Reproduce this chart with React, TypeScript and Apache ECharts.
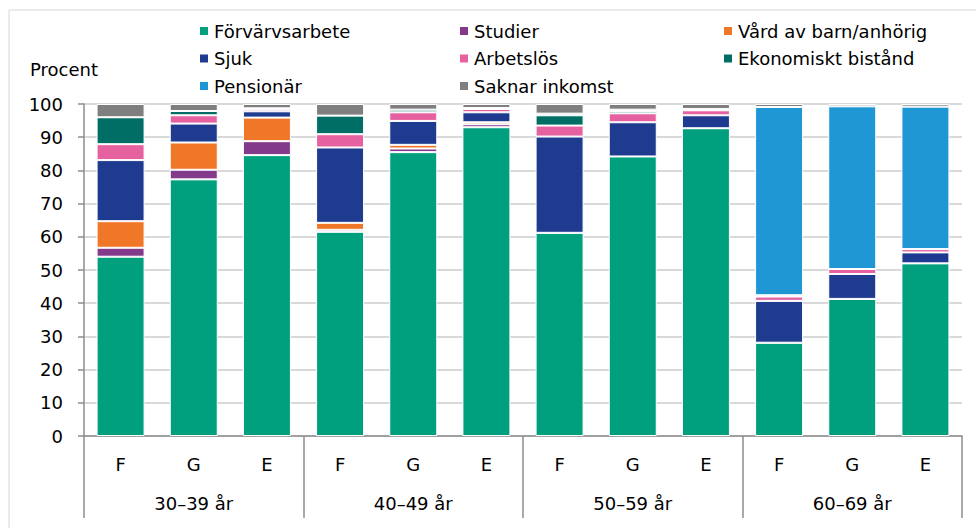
import React, { useEffect, useRef } from "react";
import * as echarts from "echarts";

const categories = ["F", "G", "E", "F", "G", "E", "F", "G", "E", "F", "G", "E"];
const groups = ["30–39 år", "40–49 år", "50–59 år", "60–69 år"];

const forvarvsarbete = [54.0, 77.3, 84.6, 61.5, 85.5, 93.0, 61.2, 84.2, 92.7, 28.1, 41.3, 52.0];
const studier = [2.7, 2.9, 4.2, 0.6, 1.1, 0.9, 0, 0, 0, 0, 0, 0];
const vard = [8.0, 8.2, 7.1, 2.1, 1.1, 0.6, 0, 0, 0, 0, 0, 0];
const sjuk = [18.4, 5.7, 1.9, 22.7, 7.2, 3.0, 29.0, 10.3, 3.9, 12.6, 7.5, 3.3];
const arbetslos = [4.8, 2.5, 0.6, 4.0, 2.6, 1.0, 3.3, 2.7, 1.5, 1.3, 1.5, 1.0];
const ekonomiskt = [8.1, 1.3, 0.3, 5.6, 0.8, 0.3, 3.1, 0.7, 0.2, 0.4, 0, 0];
const pensionar = [0, 0, 0, 0, 0, 0, 0.5, 0.4, 0.2, 56.7, 49.0, 42.9];
const saknar = [4.0, 2.1, 1.3, 3.5, 1.7, 1.2, 2.9, 1.7, 1.5, 0.9, 0.7, 0.8];

const yTicks = { min: 0, max: 100, interval: 10 };

const seriesDefs = [
  { name: "Förvärvsarbete", data: forvarvsarbete, color: "#00A07E" },
  { name: "Studier", data: studier, color: "#833A8B" },
  { name: "Vård av barn/anhörig", data: vard, color: "#F07628" },
  { name: "Sjuk", data: sjuk, color: "#1F3B8F" },
  { name: "Arbetslös", data: arbetslos, color: "#E661A0" },
  { name: "Ekonomiskt bistånd", data: ekonomiskt, color: "#006E65" },
  { name: "Pensionär", data: pensionar, color: "#1E97D4" },
  { name: "Saknar inkomst", data: saknar, color: "#7F7F7F" },
];

const FONT = "DejaVu Sans";

export default function App() {
  const ref = useRef<HTMLDivElement>(null);
  useEffect(() => {
    if (!ref.current) return;
    const chart = echarts.init(ref.current, null, { renderer: "svg" });
    const legendBase = {
      orient: "vertical" as const,
      top: 17,
      itemWidth: 10,
      itemHeight: 10,
      itemGap: 9.5,
      icon: "rect",
      textStyle: { fontFamily: FONT, fontSize: 18, color: "#000", lineHeight: 18 },
    };
    chart.setOption({
      animation: false,
      backgroundColor: "#fff",
      textStyle: { fontFamily: FONT },
      graphic: [
        {
          type: "rect",
          shape: { x: 9, y: 10, width: 1000, height: 1000 },
          style: { fill: "none", stroke: "#d6d6d6", lineWidth: 1 },
          silent: true,
        },
        {
          type: "text",
          left: 30,
          top: 60,
          style: { text: "Procent", fontFamily: FONT, fontSize: 18, fill: "#000" },
        },
      ],
      legend: [
        { ...legendBase, left: 193, data: ["Förvärvsarbete", "Sjuk", "Pensionär"] },
        { ...legendBase, left: 453, data: ["Studier", "Arbetslös", "Saknar inkomst"] },
        { ...legendBase, left: 717, data: ["Vård av barn/anhörig", "Ekonomiskt bistånd"] },
      ],
      grid: { left: 84, right: 14, top: 104, bottom: 92, containLabel: false },
      xAxis: [
        {
          type: "category",
          data: categories,
          position: "bottom",
          axisLine: { show: true, lineStyle: { color: "#8c8c8c", width: 1.5 } },
          axisTick: { show: false },
          axisLabel: { margin: 19, fontSize: 18, color: "#000", fontFamily: FONT },
        },
        {
          type: "category",
          data: groups,
          position: "bottom",
          axisLine: { show: false },
          axisTick: { show: true, length: 82, inside: false, lineStyle: { color: "#8c8c8c", width: 1.5 } },
          axisLabel: { margin: 58, fontSize: 18, color: "#000", fontFamily: FONT },
          splitLine: { show: false },
        },
      ],
      yAxis: {
        type: "value",
        min: yTicks.min,
        max: yTicks.max,
        interval: yTicks.interval,
        axisLine: { show: true, lineStyle: { color: "#8c8c8c", width: 1.5 } },
        axisTick: { show: true, length: 6, lineStyle: { color: "#8c8c8c", width: 1.5 } },
        axisLabel: { margin: 21, fontSize: 18, color: "#000", fontFamily: FONT },
        splitLine: { show: true, lineStyle: { color: "#d9d9d9", width: 2 } },
      },
      series: seriesDefs.map((s) => ({
        name: s.name,
        type: "bar",
        stack: "total",
        data: s.data,
        barWidth: 48,
        itemStyle: { color: s.color, borderColor: "#ffffff", borderWidth: 1 },
        emphasis: { disabled: true },
      })),
    });
    return () => chart.dispose();
  }, []);
  return (
    <div
      ref={ref}
      style={{ position: "fixed", left: 0, top: 0, width: 976, height: 528, background: "#fff" }}
    />
  );
}
